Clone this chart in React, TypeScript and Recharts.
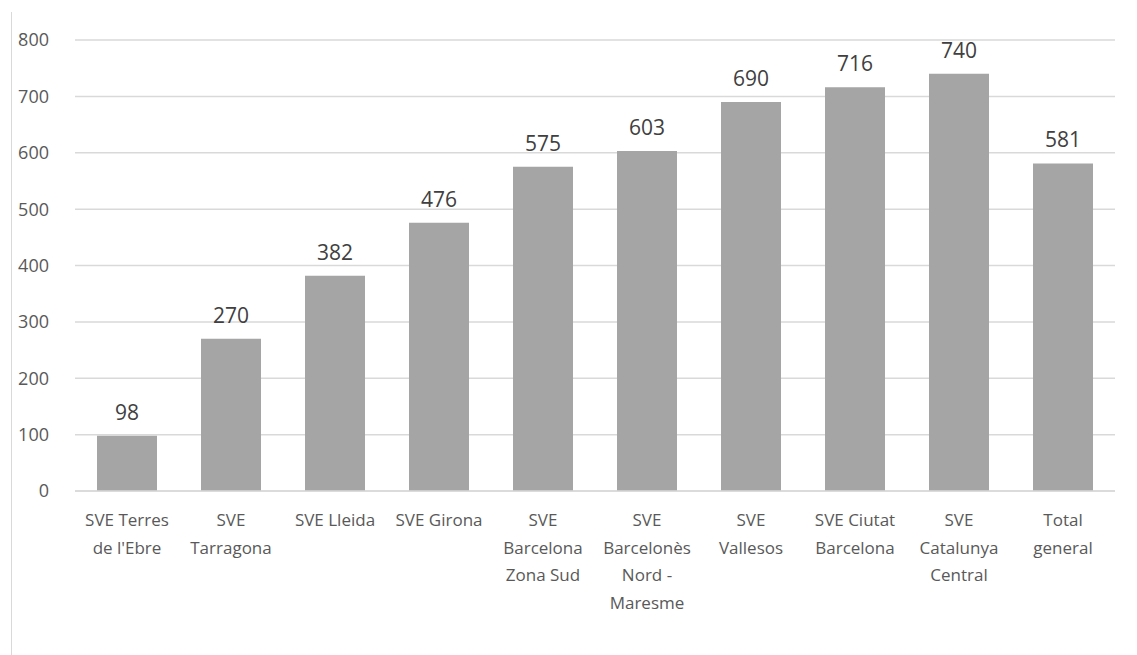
import { BarChart, Bar, XAxis, YAxis, CartesianGrid, LabelList } from "recharts";

const categories = [
    "SVE Terres\nde l'Ebre",
    "SVE\nTarragona",
    "SVE Lleida",
    "SVE Girona",
    "SVE\nBarcelona\nZona Sud",
    "SVE\nBarcelonès\nNord -\nMaresme",
    "SVE\nVallesos",
    "SVE Ciutat\nBarcelona",
    "SVE\nCatalunya\nCentral",
    "Total\ngeneral",
];
const values = [98, 270, 382, 476, 575, 603, 690, 716, 740, 581];
const yTicks = [0, 100, 200, 300, 400, 500, 600, 700, 800];

const data = categories.map((name, i) => ({ name, value: values[i] }));

const FONT = "'Liberation Sans Narrow', 'Open Sans', sans-serif";

const CategoryTick = ({ x, y, payload }: any) => {
    const lines = String(payload.value).split("\n");
    return (
        <text x={x} y={y} textAnchor="middle" fill="#595959" fontSize={17} fontFamily={FONT}>
            {lines.map((l, i) => (
                <tspan key={i} x={x} dy={i === 0 ? 27 : 27.5}>
                    {l}
                </tspan>
            ))}
        </text>
    );
};

export default function App() {
    return (
        <div style={{ position: "absolute", left: 0, top: 0, width: 1137, height: 655, background: "#fff" }}>
            <div style={{ position: "absolute", left: 11, top: 12, width: 1, height: 643, background: "#D9D9D9" }} />
            <BarChart
                width={1137}
                height={655}
                data={data}
                margin={{ top: 40, right: 22, bottom: 4, left: 15 }}
            >
                <CartesianGrid stroke="#D9D9D9" strokeWidth={1.5} vertical={false} />
                <XAxis
                    dataKey="name"
                    interval={0}
                    height={160}
                    tick={<CategoryTick />}
                    tickLine={false}
                    axisLine={{ stroke: "#D9D9D9", strokeWidth: 1.5 }}
                />
                <YAxis
                    domain={[0, 800]}
                    ticks={yTicks}
                    width={60}
                    tickLine={false}
                    axisLine={false}
                    tick={{ fill: "#595959", fontSize: 18, fontFamily: FONT }}
                    tickMargin={20}
                />
                <Bar dataKey="value" fill="#A5A5A5" barSize={60} isAnimationActive={false}>
                    <LabelList
                        dataKey="value"
                        position="top"
                        offset={16}
                        fill="#404040"
                        fontSize={21}
                        fontFamily="'Open Sans', sans-serif"
                    />
                </Bar>
            </BarChart>
        </div>
    );
}
